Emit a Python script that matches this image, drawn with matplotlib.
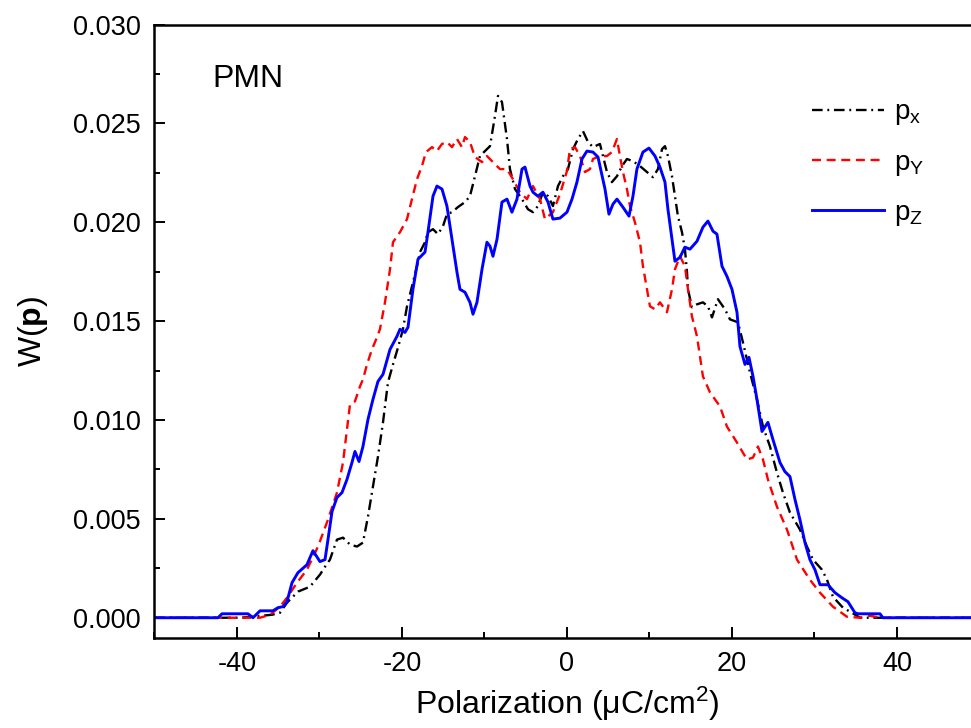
import matplotlib
matplotlib.use("Agg")
import matplotlib.pyplot as plt
from matplotlib.ticker import MultipleLocator

# W(p) distributions for PMN
PX_X = [-50, -39.6, -35.76, -34.79, -33.94, -32.61, -31.15, -29.94, -29.33, -28.73, -27.88,
        -27.15, -26.30, -25.45, -24.73, -24.12, -23.52, -22.91, -22.30, -21.70, -21.09,
        -20.48, -19.88, -19.39, -18.79, -18.18, -17.82, -17.21, -16.85, -16.24, -15.64,
        -15.03, -14.55, -13.94, -13.21, -12.36, -11.76, -11.15, -10.55, -9.94, -9.33,
        -8.73, -8.36, -7.88, -7.27, -6.91, -6.30, -5.45, -4.73, -4.12, -3.52, -2.91,
        -2.30, -1.70, -1.09, -0.48, 0.12, 0.73, 1.33, 1.94, 2.55, 3.15, 4.00, 4.85, 5.45,
        6.06, 6.67, 7.27, 8.00, 8.85, 9.70, 10.42, 11.03, 11.52, 11.88, 12.24, 12.73,
        13.09, 13.45, 13.94, 14.30, 14.55, 14.67, 15.15, 15.76, 16.48, 17.09, 17.58,
        18.30, 19.15, 19.76, 20.73, 21.33, 22.18, 23.03, 23.76, 24.61, 25.45, 26.18,
        27.03, 28.24, 29.09, 29.82, 30.91, 31.52, 32.24, 33.45, 34.55, 35.52, 50]
PX_W = [0, 0, 0.00015, 0.00025, 0.00076, 0.00132, 0.00157, 0.00218, 0.00258, 0.00294, 0.00395,
        0.00405, 0.00370, 0.00360, 0.00380, 0.00512, 0.00663, 0.00815, 0.00988, 0.01190,
        0.01281, 0.01367, 0.01459, 0.01575, 0.01676, 0.01778, 0.01849, 0.01899, 0.01950,
        0.01965, 0.01940, 0.01980, 0.02041, 0.02051, 0.02077, 0.02102, 0.02132, 0.02233,
        0.02335, 0.02360, 0.02385, 0.02537, 0.02639, 0.02608, 0.02421, 0.02269, 0.02168,
        0.02117, 0.02066, 0.02051, 0.02082, 0.02152, 0.02132, 0.02082, 0.02183, 0.02233,
        0.02269, 0.02370, 0.02421, 0.02461, 0.02406, 0.02380, 0.02396, 0.02254, 0.02203,
        0.02233, 0.02284, 0.02320, 0.02309, 0.02284, 0.02254, 0.02228, 0.02269, 0.02370,
        0.02385, 0.02335, 0.02233, 0.02132, 0.02031, 0.01950, 0.01864, 0.01747, 0.01661,
        0.01570, 0.01585, 0.01595, 0.01575, 0.01519, 0.01611, 0.01560, 0.01509, 0.01494,
        0.01393, 0.01241, 0.01104, 0.00967, 0.00866, 0.00734, 0.00633, 0.00532, 0.00446,
        0.00360, 0.00294, 0.00243, 0.00192, 0.00106, 0.00051, 0.00025, 0, 0]

PY_X = [-50, -37.21, -36.0, -34.79, -33.94, -32.73, -31.52, -30.18, -28.97, -27.88, -27.15,
        -26.67, -26.30, -25.70, -25.09, -24.73, -24.24, -23.64, -23.03, -22.67, -22.06,
        -21.45, -21.09, -20.24, -19.39, -18.79, -18.18, -17.58, -17.09, -16.36, -15.76,
        -15.15, -14.55, -13.94, -13.33, -12.73, -12.36, -11.76, -11.15, -10.30, -9.70,
        -8.97, -8.12, -7.27, -6.55, -5.70, -4.85, -4.12, -3.27, -2.67, -1.70, -0.85, 0.0,
        0.36, 0.97, 1.58, 2.18, 2.79, 3.15, 4.00, 4.85, 5.45, 6.06, 6.42, 6.79, 7.27, 7.64,
        8.24, 8.85, 9.21, 9.70, 10.06, 10.67, 11.27, 12.12, 12.73, 13.09, 13.70, 14.30,
        14.67, 15.15, 15.76, 16.48, 17.33, 18.55, 19.39, 20.61, 21.82, 22.55, 23.15, 23.76,
        24.36, 25.45, 26.67, 27.88, 29.45, 30.67, 32.24, 33.94, 35.5, 36.73, 37.94, 50]
PY_W = [0, 0, 0.00015, 0.00056, 0.00101, 0.00177, 0.00243, 0.00360, 0.00496, 0.00633, 0.00785,
        0.00952, 0.01079, 0.01094, 0.01170, 0.01205, 0.01281, 0.01357, 0.01418, 0.01459,
        0.01595, 0.01762, 0.01899, 0.01950, 0.02016, 0.02117, 0.02218, 0.02284, 0.02355,
        0.02380, 0.02360, 0.02396, 0.02406, 0.02380, 0.02421, 0.02380, 0.02431, 0.02406,
        0.02330, 0.02304, 0.02335, 0.02304, 0.02269, 0.02269, 0.02218, 0.02152, 0.02117,
        0.02183, 0.02117, 0.02016, 0.02051, 0.02142, 0.02259, 0.02370, 0.02380, 0.02335,
        0.02254, 0.02269, 0.02320, 0.02335, 0.02335, 0.02355, 0.02421, 0.02335, 0.02254,
        0.02168, 0.02082, 0.02000, 0.01899, 0.01778, 0.01661, 0.01575, 0.01560, 0.01595,
        0.01545, 0.01661, 0.01762, 0.01828, 0.01778, 0.01661, 0.01524, 0.01423, 0.01221,
        0.01140, 0.01069, 0.00967, 0.00886, 0.00800, 0.00810, 0.00866, 0.00800, 0.00699,
        0.00562, 0.00446, 0.00294, 0.00192, 0.00127, 0.00056, 0.00005, 0, 0.0001, 0, 0]

PZ_X = [-50, -42.30, -41.82, -38.67, -38.06, -37.21, -35.64, -35.03, -34.42, -33.94, -33.33,
        -32.61, -31.52, -30.79, -29.94, -29.33, -28.97, -28.48, -27.88, -27.27, -26.67,
        -26.06, -25.70, -25.21, -24.73, -24.12, -23.52, -22.91, -22.30, -21.45, -20.61,
        -20.24, -19.64, -19.27, -18.67, -18.06, -17.21, -16.85, -16.24, -15.76, -15.15,
        -14.55, -13.94, -13.33, -12.97, -12.36, -11.76, -11.39, -10.91, -10.30, -9.70,
        -9.33, -8.97, -8.48, -7.88, -7.27, -6.67, -6.06, -5.45, -5.09, -4.48, -4.12, -3.52,
        -2.91, -2.30, -1.70, -0.85, 0.0, 0.61, 1.21, 1.82, 2.42, 3.15, 3.76, 4.00, 4.61,
        5.09, 5.58, 6.06, 6.79, 7.52, 8.00, 8.48, 9.21, 9.94, 10.67, 11.27, 11.88, 12.24,
        12.73, 13.09, 13.70, 14.30, 14.91, 15.76, 16.48, 17.09, 17.70, 18.18, 18.79, 19.39,
        20.00, 20.61, 20.97, 21.58, 22.06, 22.55, 23.03, 23.64, 24.36, 24.97, 25.82, 26.42,
        27.03, 27.64, 28.24, 28.85, 29.45, 30.06, 30.67, 31.64, 32.48, 33.33, 34.06, 34.91,
        35.27, 37.94, 38.30, 50]
PZ_W = [0, 0, 0.0002, 0.0002, 0, 0.00035, 0.00035, 0.00051, 0.00056, 0.00081, 0.00177,
        0.00228, 0.00268, 0.00339, 0.00284, 0.00294, 0.00395, 0.00537, 0.00608, 0.00633,
        0.00699, 0.00785, 0.00841, 0.00790, 0.00866, 0.01003, 0.01104, 0.01195, 0.01231,
        0.01357, 0.01423, 0.01459, 0.01443, 0.01469, 0.01661, 0.01813, 0.01849, 0.01950,
        0.02132, 0.02183, 0.02168, 0.02082, 0.01914, 0.01747, 0.01661, 0.01646, 0.01595,
        0.01535, 0.01595, 0.01762, 0.01899, 0.01879, 0.01828, 0.01914, 0.02102, 0.02117,
        0.02051, 0.02117, 0.02269, 0.02279, 0.02183, 0.02152, 0.02132, 0.02152, 0.02102,
        0.02016, 0.02021, 0.02051, 0.02117, 0.02203, 0.02320, 0.02360, 0.02355, 0.02330,
        0.02284, 0.02168, 0.02041, 0.02092, 0.02117, 0.02076, 0.02031, 0.02132, 0.02269,
        0.02355, 0.02375, 0.02335, 0.02279, 0.02203, 0.02066, 0.01914, 0.01803, 0.01823,
        0.01874, 0.01864, 0.01904, 0.01975, 0.02006, 0.01955, 0.01940, 0.01778, 0.01727,
        0.01661, 0.01545, 0.01372, 0.01281, 0.01317, 0.01221, 0.01104, 0.00942, 0.00988,
        0.00901, 0.00785, 0.00739, 0.00714, 0.00598, 0.00496, 0.00380, 0.00294, 0.00243,
        0.00167, 0.00167, 0.00127, 0.00101, 0.00081, 0.00025, 0.0002, 0.0002, 0, 0]

LABELS = [r"p$_\mathregular{x}$", r"p$_\mathregular{Y}$", r"p$_\mathregular{Z}$"]


def main():
    plt.rcParams.update({
        "font.family": "Liberation Sans",
        "mathtext.fontset": "custom",
        "mathtext.rm": "Liberation Sans",
        "mathtext.bf": "Liberation Sans:bold",
        "mathtext.it": "Liberation Sans:italic",
        "axes.unicode_minus": False,
    })
    fig = plt.figure(figsize=(9.71, 7.28), dpi=100)
    ax = fig.add_axes([0.1591, 0.1243, 0.8496, 0.842])

    ax.plot(PX_X, PX_W, color="black", lw=1.7, dashes=[4.5, 2, 0.8, 2], label=LABELS[0])
    ax.plot(PY_X, PY_W, color="#ff0000", lw=1.7, dashes=[3.8, 2.4], label=LABELS[1])
    ax.plot(PZ_X, PZ_W, color="#0000ff", lw=2.1, label=LABELS[2])

    ax.set_xlim(-50, 50)
    ax.set_ylim(-0.001, 0.030)
    ax.xaxis.set_major_locator(MultipleLocator(20))
    ax.xaxis.set_minor_locator(MultipleLocator(10))
    ax.yaxis.set_major_locator(MultipleLocator(0.005))
    ax.yaxis.set_minor_locator(MultipleLocator(0.0025))
    ax.yaxis.set_major_formatter(plt.FormatStrFormatter("%.3f"))
    ax.tick_params(which="both", direction="in", width=1.4, labelsize=19.5, pad=10)
    ax.tick_params(which="major", length=8)
    ax.tick_params(which="minor", length=4.3)
    for s in ax.spines.values():
        s.set_linewidth(1.8)

    ax.set_xlabel("Polarization (μC/cm$^\\mathregular{2}$)", fontsize=23, labelpad=5)
    ax.set_ylabel(r"W($\mathbf{p}$)", fontsize=23, labelpad=16)

    ax.text(-43, 0.02725, "PMN", fontsize=23, ha="left", va="center")

    ax.legend(loc="upper left", bbox_to_anchor=(0.797, 0.878), frameon=False,
              fontsize=20, handlelength=2.6, handletextpad=0.35, labelspacing=0.8,
              borderpad=0, borderaxespad=0)

    fig.savefig("out.png", dpi=100)
    plt.close(fig)


if __name__ == "__main__":
    main()
